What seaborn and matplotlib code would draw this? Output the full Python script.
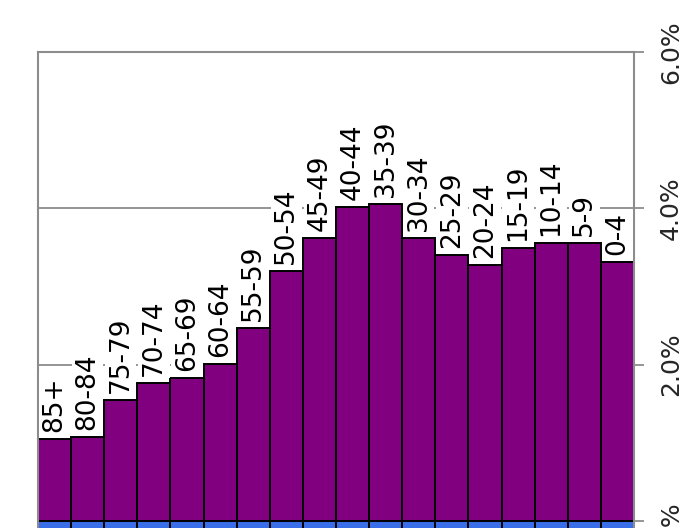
import matplotlib
matplotlib.use("Agg")
import matplotlib.pyplot as plt
import seaborn as sns
import pandas as pd

# Age groups, oldest first
age_groups = ["85+", "80-84", "75-79", "70-74", "65-69", "60-64", "55-59",
              "50-54", "45-49", "40-44", "35-39", "30-34", "25-29", "20-24",
              "15-19", "10-14", "5-9", "0-4"]

# Share of population (%) for the upper series
upper_share = [1.05, 1.08, 1.55, 1.77, 1.83, 2.01, 2.47, 3.20, 3.62, 4.02,
               4.06, 3.62, 3.40, 3.27, 3.49, 3.56, 3.56, 3.31]

# Share of population (%) for the lower series (plotted below zero)
lower_share = [-0.6, -0.8, -1.3, -1.6, -1.8, -2.0, -2.4, -3.2, -3.6, -4.0,
               -4.1, -3.7, -3.5, -3.4, -3.6, -3.7, -3.7, -3.5]

tick_values = [0, 2, 4, 6]
tick_labels = ["0%", "2.0%", "4.0%", "6.0%"]

df = pd.DataFrame({"age": age_groups, "upper": upper_share, "lower": lower_share})

sns.set_theme(style="white")
plt.rcParams["font.family"] = ["DejaVu Sans"]

fig = plt.figure(figsize=(6.90, 5.28), dpi=100)
ax = fig.add_axes([38 / 690, 0.0, (634 - 38) / 690, 1 - 52 / 528])

grid_gray = "#8c8c8c"

sns.barplot(data=df, x="age", y="upper", color="#800080", edgecolor="black",
            linewidth=1.4, width=1.0, saturation=1, ax=ax, zorder=3)
sns.barplot(data=df, x="age", y="lower", color="#3a6ee8", edgecolor="black",
            linewidth=1.4, width=1.0, saturation=1, ax=ax, zorder=3)

ax.set_ylim(-0.09, 6)
ax.set_xlim(-0.5, len(age_groups) - 0.5)

# Horizontal gridlines
for v in [2, 4]:
    ax.axhline(v, color=grid_gray, linewidth=1.3, zorder=1)

# Category labels above each bar, on white boxes
for i, (lab, val) in enumerate(zip(age_groups, upper_share)):
    ax.annotate(lab, xy=(i, val), xytext=(0, 5), textcoords="offset points",
                rotation=90, ha="center", va="bottom", fontsize=19,
                color="black", zorder=5,
                bbox=dict(boxstyle="square,pad=0.1", facecolor="white",
                          edgecolor="none"))

# Value axis on the right
ax.yaxis.tick_right()
ax.set_yticks(tick_values)
ax.set_yticklabels(tick_labels, rotation=90, va="center", fontsize=18)
ax.tick_params(axis="y", which="both", right=True, left=False, length=7,
               width=1.3, color=grid_gray, pad=11)
ax.set_xticks([])
ax.set_xlabel("")
ax.set_ylabel("")

for side in ["left", "top", "right"]:
    ax.spines[side].set_color(grid_gray)
    ax.spines[side].set_linewidth(1.5)
    ax.spines[side].set_zorder(4)
ax.spines["bottom"].set_visible(False)

fig.savefig("out.png", dpi=100, facecolor="white")
